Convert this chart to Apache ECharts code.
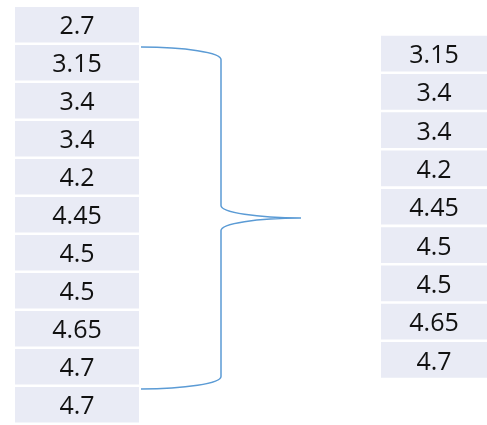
<!DOCTYPE html>
<html>
<head>
<meta charset="utf-8">
<script src="https://cdn.jsdelivr.net/npm/echarts@6/dist/echarts.min.js"></script>
<style>
  html, body { margin: 0; padding: 0; background: #ffffff; }
  #chart { width: 487px; height: 425px; }
</style>
</head>
<body>
<div id="chart"></div>
<script>
// ---- data ----
const leftValues = [2.7, 3.15, 3.4, 3.4, 4.2, 4.45, 4.5, 4.5, 4.65, 4.7, 4.7];
const rightValues = [3.15, 3.4, 3.4, 4.2, 4.45, 4.5, 4.5, 4.65, 4.7];
const braceFirstRow = 1;   // "3.15"
const braceLastRow = 9;    // first "4.7"

// ---- styles ----
const CELL_FILL = '#E9EBF5';
const TEXT_COLOR = '#111111';
const BRACE_COLOR = '#5B9BD5';
const FONT = '25px "Open Sans", "Liberation Sans", sans-serif';
const GAP = 2.6;

const chart = echarts.init(document.getElementById('chart'), null, { renderer: 'canvas' });

function cellItem(params, api) {
  const row = api.value(1);
  const c0 = api.coord([0, row]);
  const c1 = api.coord([1, row]);
  const band = api.size([0, 1])[1];
  const h = band - GAP;
  const top = c0[1] - band / 2;
  return {
    type: 'group',
    children: [
      { type: 'rect', shape: { x: c0[0], y: top, width: c1[0] - c0[0], height: h }, style: { fill: CELL_FILL } },
      { type: 'text', style: { text: String(api.value(2)), x: (c0[0] + c1[0]) / 2, y: top + h / 2 + 2.5, align: 'center', verticalAlign: 'middle', font: FONT, fill: TEXT_COLOR } }
    ]
  };
}

function braceItem(params, api) {
  const r0 = api.value(1), r1 = api.value(2);
  const band = api.size([0, 1])[1];
  const xr = api.coord([1, r0])[0];
  const yTop = api.coord([0, r0])[1] - band / 2 + 2;
  const yBot = api.coord([0, r1])[1] + band / 2 + 2;
  const yMid = (yTop + yBot) / 2;
  const x0 = xr + 2, xv = x0 + 80, xt = xv + 80;
  const rx = 80, ry = 12.5, k = 0.5523;
  const d = [
    'M', x0, yTop,
    'C', x0 + k * rx, yTop, xv, yTop + ry - k * ry, xv, yTop + ry,
    'L', xv, yMid - ry,
    'C', xv, yMid - ry + k * ry, xt - k * rx, yMid, xt, yMid,
    'M', xt, yMid,
    'C', xt - k * rx, yMid, xv, yMid + ry - k * ry, xv, yMid + ry,
    'L', xv, yBot - ry,
    'C', xv, yBot - ry + k * ry, x0 + k * rx, yBot, x0, yBot
  ].join(' ');
  return { type: 'path', shape: { pathData: d }, style: { fill: 'none', stroke: BRACE_COLOR, lineWidth: 1.5 } };
}

const PITCH = 38.3;
const hiddenValueAxis = (gi) => ({ type: 'value', gridIndex: gi, min: 0, max: 1, show: false });
const hiddenCatAxis = (gi, n) => ({ type: 'category', gridIndex: gi, inverse: true, boundaryGap: true, show: false, data: Array.from({ length: n }, (_, i) => 'r' + i) });

chart.setOption({
  animation: false,
  backgroundColor: '#ffffff',
  grid: [
    { left: 15, top: 7, width: 124, height: PITCH * leftValues.length },
    { left: 381, top: 35.7, width: 124, height: PITCH * rightValues.length }
  ],
  xAxis: [hiddenValueAxis(0), hiddenValueAxis(1)],
  yAxis: [hiddenCatAxis(0, leftValues.length), hiddenCatAxis(1, rightValues.length)],
  series: [
    { type: 'custom', xAxisIndex: 0, yAxisIndex: 0, renderItem: cellItem, encode: { x: 0, y: 1 }, clip: false,
      data: leftValues.map((v, i) => [0, i, v]) },
    { type: 'custom', xAxisIndex: 1, yAxisIndex: 1, renderItem: cellItem, encode: { x: 0, y: 1 }, clip: false,
      data: rightValues.map((v, i) => [0, i, v]) },
    { type: 'custom', xAxisIndex: 0, yAxisIndex: 0, renderItem: braceItem, encode: { x: 0, y: 1 }, clip: false,
      data: [[0, braceFirstRow, braceLastRow]] }
  ]
});
</script>
</body>
</html>
